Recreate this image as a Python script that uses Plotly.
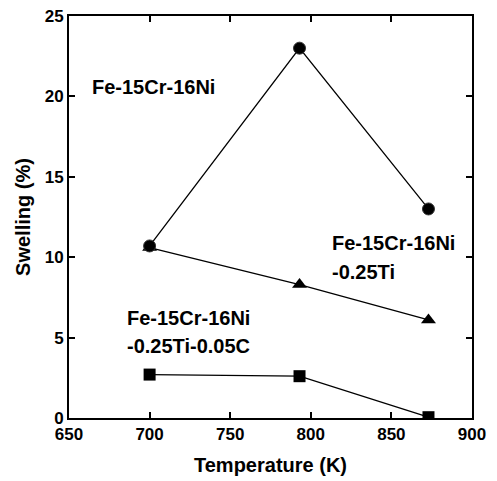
import plotly.graph_objects as go

temperature = [700, 793, 873]
swelling_base = [10.7, 23.0, 13.0]
swelling_ti = [10.6, 8.3, 6.1]
swelling_ti_c = [2.7, 2.6, 0.05]

x_ticks = [650, 700, 750, 800, 850, 900]
y_ticks = [0, 5, 10, 15, 20, 25]

FONT = "Liberation Sans, Arial, sans-serif"

fig = go.Figure()
line_style = dict(color="black", width=1.3)
fig.add_trace(go.Scatter(x=temperature, y=swelling_ti_c, mode="lines+markers",
                         line=line_style,
                         marker=dict(symbol="square", size=12, color="black")))
fig.add_trace(go.Scatter(x=temperature, y=swelling_ti, mode="lines+markers",
                         line=line_style,
                         marker=dict(symbol="triangle-up", size=13, color="black")))
fig.add_trace(go.Scatter(x=temperature, y=swelling_base, mode="lines+markers",
                         line=line_style,
                         marker=dict(symbol="circle", size=12, color="black",
                                     line=dict(color="#333", width=1))))

labels = [
    ("Fe-15Cr-16Ni", 663, 20.6),
    ("Fe-15Cr-16Ni", 812, 10.9),
    ("-0.25Ti", 812, 9.1),
    ("Fe-15Cr-16Ni", 684.5, 6.2),
    ("-0.25Ti-0.05C", 684.5, 4.45),
]
for text, x, y in labels:
    fig.add_annotation(x=x, y=y, text=text, showarrow=False, xanchor="left",
                       yanchor="middle", font=dict(family=FONT, size=20, color="black", weight="bold"))

axis_common = dict(showline=True, linecolor="black", linewidth=2, mirror="ticks",
                   ticks="inside", ticklen=6, tickwidth=1.5, tickcolor="black",
                   showgrid=False, zeroline=False, automargin=False,
                   ticklabeloverflow="allow",
                   tickfont=dict(family=FONT, size=17, color="black", weight="bold"))

fig.update_xaxes(range=[650, 900], tickvals=x_ticks,
                 title=dict(text="Temperature (K)", standoff=15,
                            font=dict(family=FONT, size=20, color="black", weight="bold")),
                 **axis_common)
fig.update_yaxes(range=[0, 25], tickvals=y_ticks,
                 title=dict(text="Swelling (%)", standoff=9,
                            font=dict(family=FONT, size=20, color="black", weight="bold")),
                 **axis_common)

# page body has an 8px default margin; compensate so the plot area lands where the reference has it
fig.update_layout(width=489, height=473, showlegend=False,
                  plot_bgcolor="white", paper_bgcolor="white",
                  margin=dict(l=61, r=25, t=8, b=63))

fig.write_html("out.html")
